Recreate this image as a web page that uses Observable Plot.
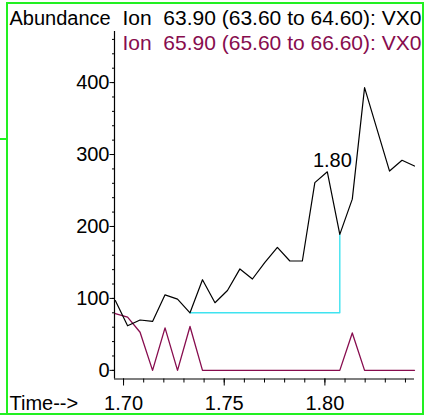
<!DOCTYPE html>
<html>
<head>
<meta charset="utf-8">
<script src="https://cdn.jsdelivr.net/npm/d3@7"></script>
<script src="https://cdn.jsdelivr.net/npm/@observablehq/plot@0.6"></script>
<style>
  html, body { margin: 0; padding: 0; background: #fff; }
  #wrap { position: relative; width: 425px; height: 417px; overflow: hidden; }
  .g { position: absolute; background: #22f022; }
</style>
</head>
<body>
<div id="wrap">
  <div id="chart"></div>
  <div class="g" style="left:6px;top:2px;width:2px;height:412px"></div>
  <div class="g" style="left:6px;top:2px;width:418px;height:2px"></div>
  <div class="g" style="left:422px;top:2px;width:2px;height:412px"></div>
  <div class="g" style="left:0px;top:412.5px;width:424px;height:2px"></div>
  <div class="g" style="left:0px;top:138px;width:7px;height:1.5px"></div>
</div>
<script>
// ---- data ----
const times = [1.6959, 1.7020, 1.7082, 1.7144, 1.7206, 1.7268, 1.7330, 1.7392, 1.7454, 1.7516,
               1.7578, 1.7640, 1.7702, 1.7764, 1.7826, 1.7888, 1.7950, 1.8012, 1.8074, 1.8136,
               1.8197, 1.8259, 1.8321, 1.8383, 1.8445];
const ion6390 = [97, 62, 70, 68, 105, 99, 80, 126, 94, 111,
                 141, 127, 150, 171, 152, 152, 261, 276, 189, 238,
                 393, 335, 277, 292, 284];
const ion6590 = [79, 74, 53, 0, 59, 0, 61, 0, 0, 0,
                 0, 0, 0, 0, 0, 0, 0, 0, 0, 52,
                 0, 0, 0, 0, 0];
const baselineTimes = [1.7330, 1.8074, 1.8074];
const baselineValues = [80, 80, 189];
const peakLabels = [{time: 1.8037, abundance: 282, text: "1.80"}];
const ionLabels = ["Ion\u00A0\u00A063.90 (63.60 to 64.60): VX0", "Ion\u00A0\u00A065.90 (65.60 to 66.60): VX0"];
const yLabel = "Abundance";
const xLabel = "Time-->";
const xMajor = [1.70, 1.75, 1.80];
const xMinor = [1.70, 1.71, 1.72, 1.73, 1.74, 1.75, 1.76, 1.77, 1.78, 1.79, 1.80, 1.81, 1.82, 1.83, 1.84];
const yMajor = [0, 100, 200, 300, 400];
const yMinor = [0, 20, 40, 60, 80, 100, 120, 140, 160, 180, 200, 220, 240, 260, 280, 300, 320, 340, 360, 380, 400, 420, 440, 460];
const xDomain = [1.6955, 1.8445];
const yDomain = [-12, 471];

const black = "#000000";
const magenta = "#870c4e";
const cyan = "#3fe3f0";
const font = "'Liberation Sans', Arial, Helvetica, sans-serif";

const s1 = times.map((t, i) => ({t, v: ion6390[i]}));
const s2 = times.map((t, i) => ({t, v: ion6590[i]}));
const base = baselineTimes.map((t, i) => ({t, v: baselineValues[i]}));

const chart = Plot.plot({
  width: 425,
  height: 417,
  marginLeft: 114,
  marginRight: 11,
  marginTop: 31,
  marginBottom: 38.5,
  style: {fontFamily: font, fontSize: "20px", background: "transparent", color: "#000"},
  x: {domain: xDomain, label: null, axis: null},
  y: {domain: yDomain, label: null, axis: null},
  marks: [
    Plot.ruleX([xDomain[0]], {stroke: black, strokeWidth: 1.2}),
    Plot.ruleY([yDomain[0]], {stroke: black, strokeWidth: 1.2}),
    Plot.axisY({ticks: yMinor, tickSize: 2, tickFormat: () => "", label: null}),
    Plot.axisY({ticks: yMajor, tickSize: 4.5, tickPadding: 0.5, tickFormat: d => String(d), fontSize: 20, label: null}),
    Plot.axisX({ticks: xMinor, tickSize: 4, tickFormat: () => "", label: null}),
    Plot.axisX({ticks: xMajor, tickSize: 7, tickPadding: 9.5, tickFormat: d3.format(".2f"), fontSize: 20, label: null}),
    Plot.line(base, {x: "t", y: "v", stroke: cyan, strokeWidth: 1.4}),
    Plot.line(s2, {x: "t", y: "v", stroke: magenta, strokeWidth: 1.3}),
    Plot.line(s1, {x: "t", y: "v", stroke: black, strokeWidth: 1.2}),
    Plot.text(peakLabels, {x: "time", y: "abundance", text: "text", textAnchor: "middle", lineAnchor: "bottom", fontSize: 20, fill: black}),
    Plot.text([yLabel], {text: d => d, frameAnchor: "top-left", dx: -105, dy: -7, textAnchor: "start", lineAnchor: "bottom", fontSize: 20, fill: black}),
    Plot.text([ionLabels[0]], {text: d => d, frameAnchor: "top-left", dx: 8, dy: -7, textAnchor: "start", lineAnchor: "bottom", fontSize: 21, fill: black}),
    Plot.text([ionLabels[1]], {text: d => d, frameAnchor: "top-left", dx: 8, dy: 18, textAnchor: "start", lineAnchor: "bottom", fontSize: 21, fill: magenta}),
    Plot.text([xLabel], {text: d => d, frameAnchor: "bottom-left", dx: -105, dy: 30.5, textAnchor: "start", lineAnchor: "bottom", fontSize: 20, fill: black})
  ]
});
document.getElementById("chart").appendChild(chart);
</script>
</body>
</html>
